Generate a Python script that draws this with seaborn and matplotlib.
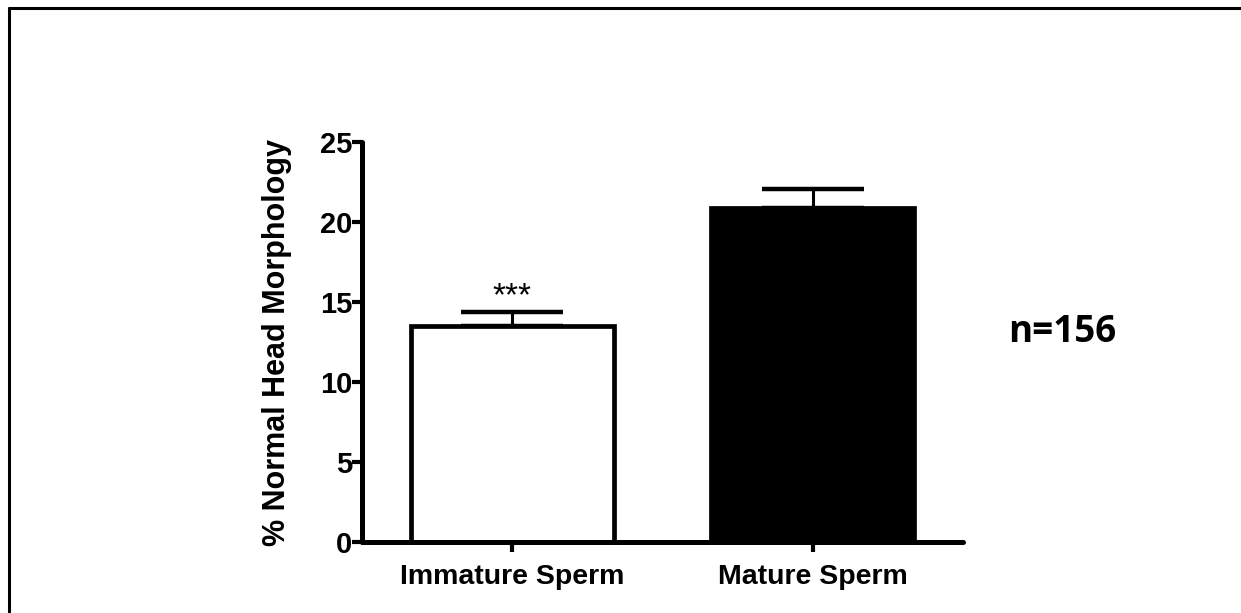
import matplotlib
matplotlib.use("Agg")
import matplotlib.pyplot as plt
import seaborn as sns
import pandas as pd
from matplotlib.lines import Line2D

categories = ["Immature Sperm", "Mature Sperm"]
means = [13.5, 20.9]
sems = [0.85, 1.15]
bar_colors = ["white", "black"]
yticks = [0, 5, 10, 15, 20, 25]
sig_labels = ["***", ""]
n_label = "n=156"
ylabel = "% Normal Head Morphology"

sns.set_theme(style="white")
plt.rcParams["font.family"] = ["Liberation Sans", "DejaVu Sans"]
plt.rcParams["text.color"] = "black"
plt.rcParams["axes.labelcolor"] = "black"
plt.rcParams["xtick.color"] = "black"
plt.rcParams["ytick.color"] = "black"

df = pd.DataFrame({"cat": categories, "val": means})

fig = plt.figure(figsize=(12.41, 6.13), dpi=100)
ax = fig.add_axes([362/1241, 1-542/613, 601/1241, 400/613])

sns.barplot(data=df, x="cat", y="val", hue="cat", palette=bar_colors,
            order=categories, hue_order=categories, legend=False,
            errorbar=None, width=0.677, edgecolor="black", linewidth=3.4,
            ax=ax, zorder=2)

ax.errorbar(range(len(categories)), means, yerr=[[0]*len(sems), sems],
            fmt="none", ecolor="black", elinewidth=2.2, capsize=37,
            capthick=3.2, zorder=1)

for i, (m, s, lab) in enumerate(zip(means, sems, sig_labels)):
    if lab:
        ax.annotate(lab, (i, m + s), xytext=(0, 0), textcoords="offset points",
                    ha="center", va="bottom", fontsize=24)

ax.set_ylim(0, 25)
ax.set_xlim(-0.5, 1.5)
ax.set_yticks(yticks)
ax.set_yticklabels([str(t) for t in yticks], fontsize=21, fontweight="bold")
ax.set_xticks(range(len(categories)))
ax.set_xticklabels(categories, fontsize=20.5, fontweight="bold")
ax.set_xlabel("")
ax.set_ylabel(ylabel, fontsize=22, fontweight="bold", labelpad=20)

for side in ["top", "right"]:
    ax.spines[side].set_visible(False)
for side in ["left", "bottom"]:
    ax.spines[side].set_linewidth(3.6)
    ax.spines[side].set_color("black")
    ax.spines[side].set_capstyle("round")
ax.tick_params(axis="both", which="major", direction="out", length=7,
               width=3, color="black", bottom=True, left=True)
ax.tick_params(axis="y", pad=0)
ax.tick_params(axis="x", pad=9)

fig.text(1062/1241, 1-332/613, n_label, ha="center", va="center",
         fontsize=26.5, fontweight="bold", family=["Open Sans", "DejaVu Sans"])

# outer frame (top & left edges)
fig.add_artist(Line2D([8.5/1241, 8.5/1241], [0, 1-7.5/613], transform=fig.transFigure,
                      color="black", linewidth=2.2))
fig.add_artist(Line2D([8.5/1241, 1], [1-7.5/613, 1-7.5/613], transform=fig.transFigure,
                      color="black", linewidth=2.2))

fig.savefig("out.png", dpi=100, facecolor="white")
